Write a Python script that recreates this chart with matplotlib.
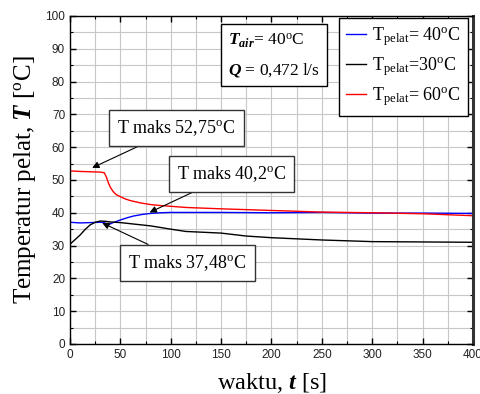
import matplotlib
matplotlib.use("Agg")
import matplotlib.pyplot as plt
from matplotlib.ticker import MultipleLocator

plt.rcParams['mathtext.fontset'] = 'custom'
plt.rcParams['mathtext.rm'] = 'Liberation Serif'
plt.rcParams['mathtext.it'] = 'Liberation Serif:italic'
plt.rcParams['mathtext.bf'] = 'Liberation Serif:bold'
plt.rcParams['mathtext.bfit'] = 'Liberation Serif:italic:bold'

# Plate temperature over time for three starting temperatures
t40 = [0, 10, 20, 30, 34, 38, 42, 50, 57, 63, 72, 80, 90, 100, 150, 200, 250, 300, 350, 400]
T40 = [37.1, 36.9, 37.0, 37.1, 37.0, 36.3, 36.9, 37.8, 38.5, 39.0, 39.5, 39.8, 40.0, 40.1,
       40.1, 40.0, 40.1, 39.9, 39.9, 39.8]

t30 = [0, 5, 10, 15, 20, 25, 30, 35, 40, 50, 65, 80, 100, 115, 150, 175, 200, 250, 300, 350, 400]
T30 = [30.4, 31.8, 33.2, 34.9, 36.3, 37.1, 37.48, 37.4, 37.2, 37.0, 36.5, 36.0, 35.0, 34.3,
       33.8, 32.9, 32.4, 31.7, 31.2, 31.1, 31.0]

t60 = [0, 10, 20, 30, 34, 36, 38, 40, 43, 46, 50, 55, 60, 70, 80, 90, 116, 150, 200, 250, 300, 350, 400]
T60 = [52.75, 52.6, 52.5, 52.4, 52.2, 51.0, 49.2, 47.8, 46.4, 45.5, 44.9, 44.2, 43.7, 43.0,
       42.5, 42.2, 41.6, 41.2, 40.7, 40.2, 40.0, 39.7, 39.1]

fig = plt.figure(figsize=(4.8, 3.94), dpi=100)
ax = fig.add_axes([0.1458, 0.127, 0.8396, 0.8325])

ax.plot(t40, T40, color='#0000ff', lw=1.0,
        label=r'T$_{\mathrm{pelat}}$= 40$^{\mathrm{o}}$C')
ax.plot(t30, T30, color='black', lw=1.0,
        label=r'T$_{\mathrm{pelat}}$=30$^{\mathrm{o}}$C')
ax.plot(t60, T60, color='#ff0000', lw=1.0,
        label=r'T$_{\mathrm{pelat}}$= 60$^{\mathrm{o}}$C')

ax.set_xlim(0, 400)
ax.set_ylim(0, 100)
ax.xaxis.set_major_locator(MultipleLocator(50))
ax.xaxis.set_minor_locator(MultipleLocator(25))
ax.yaxis.set_major_locator(MultipleLocator(10))
ax.yaxis.set_minor_locator(MultipleLocator(5))
ax.grid(True, which='both', color='#c8c8c8', lw=0.8)
ax.set_axisbelow(True)
ax.tick_params(which='both', direction='in', top=True, right=True,
               labelsize=8.5, labelcolor='#222222', labelfontfamily='Liberation Sans')
ax.tick_params(which='major', length=4, width=1)
ax.tick_params(which='minor', length=2.5, width=0.8)
for side in ['left', 'bottom', 'top']:
    ax.spines[side].set_linewidth(1.0)
ax.spines['right'].set_linewidth(2.2)
ax.spines['right'].set_color('#333333')

ax.set_xlabel(r'waktu, $\mathbfit{t}$ [s]', fontsize=17.5, family='Liberation Serif', labelpad=7)
ax.set_ylabel(r'Temperatur pelat, $\mathbfit{T}$ [$^{\mathrm{o}}$C]', fontsize=18,
              family='Liberation Serif', labelpad=5)

leg = ax.legend(loc='upper right', bbox_to_anchor=(0.988, 0.994), frameon=True, fancybox=False,
                prop={'family': 'Liberation Serif', 'size': 13}, handlelength=1.1,
                handletextpad=0.35, borderpad=0.4, labelspacing=0.4, borderaxespad=0)
leg.get_frame().set_edgecolor('black')
leg.get_frame().set_linewidth(1.0)
leg.get_frame().set_alpha(1)

# Test conditions box
ax.text(157, 88, r'$\mathbfit{T}_{\mathbfit{air}}$= 40$^{\mathrm{o}}$C' + '\n' +
        r'$\mathbfit{Q}$ = 0,472 l/s',
        fontsize=12.5, family='Liberation Serif', va='center', ha='left', linespacing=1.8,
        bbox=dict(boxstyle='square,pad=0.4', facecolor='white', edgecolor='black', lw=1.0))

box = dict(boxstyle='square,pad=0.45', facecolor='white', edgecolor='#333333', lw=1.0)
arrow = dict(arrowstyle='-|>', color='black', lw=0.8, mutation_scale=10, shrinkA=0, shrinkB=0)

ax.annotate(r'T maks 52,75$^{\mathrm{o}}$C', xy=(22, 53.7), xytext=(47, 65.7),
            fontsize=13, family='Liberation Serif', va='center', ha='left',
            bbox=box, arrowprops=arrow)
ax.annotate(r'T maks 40,2$^{\mathrm{o}}$C', xy=(79, 40.1), xytext=(106, 51.8),
            fontsize=13, family='Liberation Serif', va='center', ha='left',
            bbox=box, arrowprops=arrow)
ax.annotate(r'T maks 37,48$^{\mathrm{o}}$C', xy=(32, 36.9), xytext=(58, 24.7),
            fontsize=13, family='Liberation Serif', va='center', ha='left',
            bbox=box, arrowprops=arrow)

fig.savefig('out.png', dpi=100)
